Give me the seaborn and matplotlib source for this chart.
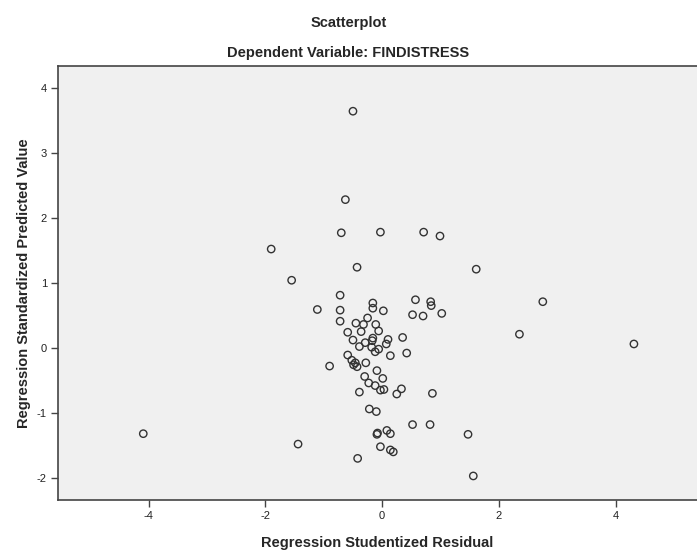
import pandas as pd
import matplotlib
matplotlib.use("Agg")
import matplotlib.pyplot as plt
import seaborn as sns

# Regression Studentized Residual (x) vs Regression Standardized Predicted Value (y)
residual = [
    -0.50, -0.63, -0.70, -0.03, 0.71, 0.99, -1.90, -0.43, 1.61, -1.55,
    -0.72, -1.11, -0.72, -0.16, -0.16, 0.02, 0.57, 0.83, 0.84, 0.52,
    0.70, 1.02, 2.75, -0.72, -0.25, -0.45, -0.32, -0.11, -0.36, -0.06,
    -0.59, 0.35, -0.50, -0.16, -0.17, -0.29, 0.10, 0.07, -0.39, -0.18,
    -0.06, -0.12, 0.14, 0.42, 2.35, 4.31, -0.59, -0.52, -0.46, -0.43,
    -0.49, -0.28, -0.90, -0.09, -0.30, 0.01, -0.23, -0.12, -0.03, 0.03,
    0.33, 0.25, -0.39, 0.86, -0.22, -0.10, 0.52, 0.82, -0.08, -0.09,
    0.08, 0.14, -0.03, 0.14, 0.19, -0.42, 1.47, -1.44, -4.09, 1.56,
]
predicted = [
    3.64, 2.28, 1.77, 1.78, 1.78, 1.72, 1.52, 1.24, 1.21, 1.04,
    0.81, 0.59, 0.58, 0.69, 0.61, 0.57, 0.74, 0.71, 0.65, 0.51,
    0.49, 0.53, 0.71, 0.41, 0.46, 0.38, 0.36, 0.36, 0.25, 0.26,
    0.24, 0.16, 0.12, 0.15, 0.11, 0.08, 0.13, 0.06, 0.02, 0.01,
    -0.02, -0.06, -0.12, -0.08, 0.21, 0.06, -0.11, -0.19, -0.23, -0.29,
    -0.26, -0.23, -0.28, -0.35, -0.44, -0.47, -0.54, -0.58, -0.65, -0.64,
    -0.63, -0.71, -0.68, -0.70, -0.94, -0.98, -1.18, -1.18, -1.31, -1.33,
    -1.27, -1.32, -1.52, -1.57, -1.60, -1.70, -1.33, -1.48, -1.32, -1.97,
]
x_ticks = [-4, -2, 0, 2, 4]
y_ticks = [-2, -1, 0, 1, 2, 3, 4]

df = pd.DataFrame({"resid": residual, "pred": predicted})

sns.set_style("ticks", {"axes.facecolor": "#f0f0f0", "axes.edgecolor": "#444444"})
plt.rcParams["font.family"] = ["Liberation Sans", "DejaVu Sans"]
plt.rcParams["axes.unicode_minus"] = False

fig = plt.figure(figsize=(6.97, 5.56), dpi=100)
ax = fig.add_axes([58 / 697, 1 - 500 / 556, 1 - 58 / 697, (500 - 65.7) / 556])

sns.scatterplot(data=df, x="resid", y="pred", ax=ax, marker="o",
                facecolor="none", edgecolor="#333333", linewidth=1.0, s=28)

ax.set_xlim(-5.55, 5.39)
ax.set_ylim(-2.34, 4.34)
ax.set_xticks(x_ticks)
ax.set_yticks(y_ticks)
ax.tick_params(axis="both", labelsize=8, length=5, width=1, pad=3,
               color="#444444", labelcolor="#222222")
for side in ["left", "bottom", "top"]:
    ax.spines[side].set_linewidth(1.2)
ax.spines["right"].set_visible(False)

ax.set_xlabel("Regression Studentized Residual", fontsize=10.5,
              fontweight="bold", labelpad=11)
ax.set_ylabel("Regression Standardized Predicted Value", fontsize=10.5,
              fontweight="bold", labelpad=4)

fig.text(0.5, 1 - 23 / 556, "Scatterplot", ha="center", va="center",
         fontsize=10.5, fontweight="bold")
fig.text(0.5, 1 - 53 / 556, "Dependent Variable: FINDISTRESS", ha="center",
         va="center", fontsize=10.5, fontweight="bold")

fig.savefig("out.png", dpi=100)
plt.close(fig)
